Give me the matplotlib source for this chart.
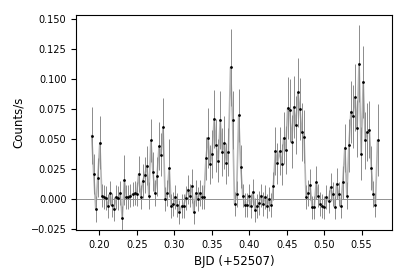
import matplotlib
matplotlib.use("Agg")
import matplotlib.pyplot as plt

# light curve, counts/s per time bin (BJD - 2452507)
bjd = [0.1898, 0.1925, 0.1952, 0.1979, 0.2007, 0.2034, 0.2061, 0.2088, 0.2116, 0.2143,
       0.2170, 0.2197, 0.2225, 0.2252, 0.2279, 0.2306, 0.2334, 0.2361, 0.2388, 0.2415,
       0.2443, 0.2470, 0.2497, 0.2524, 0.2552, 0.2579, 0.2606, 0.2633, 0.2661, 0.2688,
       0.2715, 0.2742, 0.2770, 0.2797, 0.2824, 0.2851, 0.2879, 0.2906, 0.2933, 0.2960,
       0.2988, 0.3015, 0.3042, 0.3069, 0.3097, 0.3124, 0.3151, 0.3178, 0.3206, 0.3233,
       0.3260, 0.3287, 0.3315, 0.3342, 0.3369, 0.3396, 0.3424, 0.3451, 0.3478, 0.3505,
       0.3533, 0.3560, 0.3587, 0.3614, 0.3642, 0.3669, 0.3696, 0.3723, 0.3751, 0.3778,
       0.3805, 0.3832, 0.3860, 0.3887, 0.3914, 0.3941, 0.3969, 0.3996, 0.4023, 0.4050,
       0.4078, 0.4105, 0.4132, 0.4159, 0.4187, 0.4214, 0.4241, 0.4268, 0.4296, 0.4323,
       0.4350, 0.4377, 0.4405, 0.4432, 0.4459, 0.4486, 0.4514, 0.4541, 0.4568, 0.4595,
       0.4623, 0.4650, 0.4677, 0.4704, 0.4732, 0.4759, 0.4786, 0.4813, 0.4841, 0.4868,
       0.4895, 0.4922, 0.4950, 0.4977, 0.5004, 0.5031, 0.5059, 0.5086, 0.5113, 0.5140,
       0.5168, 0.5195, 0.5222, 0.5249, 0.5277, 0.5304, 0.5331, 0.5358, 0.5386, 0.5413,
       0.5440, 0.5467, 0.5495, 0.5522, 0.5549, 0.5576, 0.5604, 0.5631, 0.5658, 0.5685,
       0.5713]

rate = [0.053, 0.021, -0.008, 0.018, 0.047, 0.003, 0.002, 0.001, -0.006, 0.005,
        -0.005, -0.008, 0.002, 0.001, 0.005, -0.016, 0.016, 0.002, 0.002, 0.003,
        0.004, 0.005, 0.004, 0.021, 0.002, 0.015, 0.020, 0.028, 0.003, 0.049,
        0.023, 0.005, 0.019, 0.044, 0.037, 0.060, 0.000, 0.005, 0.026, -0.006,
        -0.004, 0.002, -0.005, -0.011, -0.006, -0.006, 0.001, 0.008, 0.003, 0.011,
        -0.011, 0.005, 0.000, 0.005, 0.002, 0.002, 0.034, 0.051, 0.029, 0.038,
        0.067, 0.045, 0.032, 0.066, 0.039, 0.047, 0.030, 0.039, 0.110, 0.066,
        -0.004, 0.004, 0.070, 0.027, 0.003, -0.005, -0.005, 0.003, -0.006, 0.006,
        -0.009, -0.006, -0.003, 0.003, -0.004, 0.002, -0.006, 0.000, -0.005, 0.011,
        0.040, 0.030, 0.040, 0.029, 0.051, 0.041, 0.076, 0.074, 0.048, 0.077,
        0.062, 0.089, 0.075, 0.056, 0.052, 0.002, 0.005, 0.012, -0.007, -0.007,
        0.014, 0.003, -0.004, -0.006, -0.007, 0.002, -0.002, 0.010, 0.004, -0.007,
        0.013, 0.004, -0.006, 0.014, 0.043, 0.003, 0.045, 0.073, 0.069, 0.085,
        0.059, 0.113, 0.038, 0.098, 0.049, 0.056, 0.058, 0.026, 0.004, -0.005,
        0.049]

err = [0.024, 0.017, 0.011, 0.016, 0.022, 0.010, 0.010, 0.010, 0.010, 0.010,
       0.010, 0.010, 0.010, 0.010, 0.010, 0.010, 0.021, 0.010, 0.010, 0.010,
       0.010, 0.010, 0.010, 0.015, 0.010, 0.014, 0.015, 0.016, 0.011, 0.018,
       0.016, 0.011, 0.016, 0.020, 0.018, 0.024, 0.010, 0.011, 0.024, 0.010,
       0.010, 0.010, 0.010, 0.010, 0.010, 0.010, 0.010, 0.012, 0.010, 0.014,
       0.010, 0.011, 0.010, 0.011, 0.010, 0.010, 0.018, 0.025, 0.016, 0.020,
       0.024, 0.022, 0.018, 0.024, 0.020, 0.022, 0.017, 0.020, 0.032, 0.024,
       0.010, 0.011, 0.022, 0.018, 0.010, 0.010, 0.010, 0.010, 0.010, 0.011,
       0.010, 0.010, 0.010, 0.010, 0.010, 0.010, 0.010, 0.010, 0.010, 0.012,
       0.020, 0.017, 0.020, 0.017, 0.022, 0.020, 0.026, 0.026, 0.022, 0.026,
       0.024, 0.029, 0.026, 0.024, 0.022, 0.010, 0.011, 0.013, 0.010, 0.010,
       0.014, 0.010, 0.010, 0.010, 0.010, 0.010, 0.010, 0.012, 0.010, 0.010,
       0.013, 0.010, 0.010, 0.014, 0.020, 0.011, 0.022, 0.026, 0.026, 0.028,
       0.024, 0.032, 0.022, 0.030, 0.024, 0.024, 0.024, 0.018, 0.011, 0.010,
       0.030]

fig = plt.figure(figsize=(4.07, 2.8), dpi=100)
ax = fig.add_axes([0.187, 0.179, 0.775, 0.767])

ax.axhline(0, color='gray', lw=0.6, zorder=1)
ax.plot(bjd, rate, color='#b5b5b5', lw=1.2, zorder=2)
ax.errorbar(bjd, rate, yerr=err, fmt='.', color='k', ms=2,
            ecolor='#8c8c8c', elinewidth=0.7, capsize=0, zorder=3)

ax.set_xlim(0.169, 0.590)
ax.set_ylim(-0.0257, 0.1536)
ax.set_xticks([0.20, 0.25, 0.30, 0.35, 0.40, 0.45, 0.50, 0.55])
ax.set_yticks([-0.025, 0.0, 0.025, 0.05, 0.075, 0.1, 0.125, 0.15])
ax.tick_params(labelsize=7)
ax.set_xlabel('BJD (+52507)', fontsize=8.5)
ax.set_ylabel('Counts/s', fontsize=8.5)

fig.savefig('out.png', dpi=100)
